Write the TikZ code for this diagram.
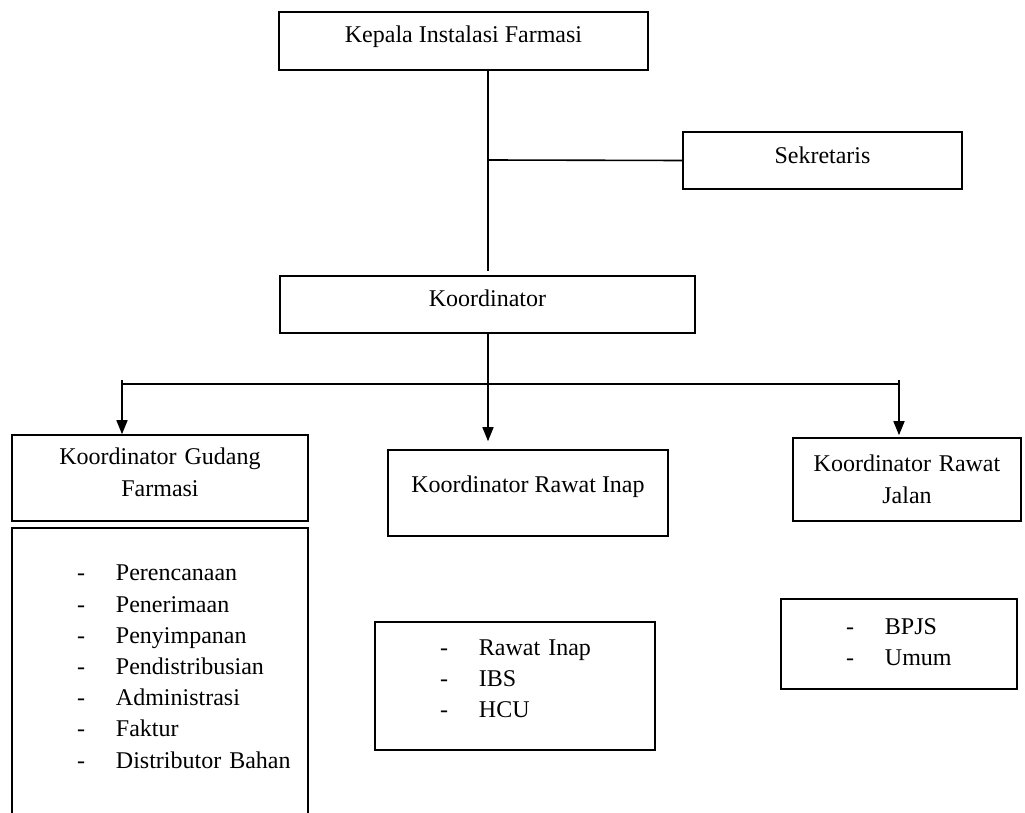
\documentclass[tikz,border=0pt]{standalone}
\usepackage{fontspec}
\setmainfont{Liberation Serif}
\usetikzlibrary{arrows.meta}
\newcommand{\itm}[1]{\hspace*{32.5pt}\makebox[19.5pt][l]{-}#1}

\begin{document}
\begin{tikzpicture}[x=0.5pt, y=-0.5pt, line width=0.8pt,
    every node/.style={font=\fontsize{12}{15.6}\selectfont},
    box/.style={draw, rectangle, inner sep=0pt, align=center, text height=8.5pt},
    listbox/.style={draw, rectangle, inner sep=0pt, align=left, text height=8.5pt},
    arr/.style={-{Triangle[length=7pt, width=5.5pt]}}]
    \clip (0,0) rectangle (1025,813);
    % Top level
    \node[box, minimum width=184.5pt, minimum height=29pt, text depth=6.5pt] (kepala) at (463.5,41) {Kepala Instalasi Farmasi};
    \node[box, minimum width=139.5pt, minimum height=28.5pt, text depth=5pt] (sekre) at (822.5,160.5) {Sekretaris};
    \node[box, minimum width=207.5pt, minimum height=28.5pt, text depth=6.3pt] (koor) at (487.5,304.5) {Koordinator};
    % Coordinators
    \node[box, text width=148pt, minimum height=43pt, text depth=21.5pt] (gudang) at (160,478) {Koordinator Gudang\\Farmasi};
    \node[box, minimum width=140pt, minimum height=43pt, text depth=8.5pt] (inap) at (528,493) {Koordinator Rawat Inap};
    \node[box, text width=114pt, minimum height=41.5pt, text depth=16pt] (jalan) at (907,479.5) {Koordinator Rawat\\Jalan};
    % Task lists
    \node[listbox, text width=148pt, minimum height=150pt, text depth=105.5pt] (lgudang) at (160,678)
        {\itm{Perencanaan}\\\itm{Penerimaan}\\\itm{Penyimpanan}\\\itm{Pendistribusian}\\\itm{Administrasi}\\\itm{Faktur}\\\itm{Distributor Bahan}};
    \node[listbox, text width=140pt, minimum height=64pt, text depth=39.5pt] (linap) at (515,686)
        {\itm{Rawat Inap}\\\itm{IBS}\\\itm{HCU}};
    \node[listbox, text width=118pt, minimum height=45pt, text depth=18.5pt] (ljalan) at (899,644)
        {\itm{BPJS}\\\itm{Umum}};
    % Connections
    \coordinate (spine) at (488,160);
    \coordinate (busl) at (122,384);
    \coordinate (busr) at (899,384);
    \draw (kepala.south -| spine) -- (koor.north -| spine) [shorten >=2pt];
    \draw (spine) -- (sekre.west);
    \draw[arr, shorten >=4pt] (koor.south -| spine) -- (inap.north -| spine);
    \draw (busl) -- (busr);
    \draw[arr] ([yshift=2pt]busl) -- (busl |- gudang.north);
    \draw[arr, shorten >=1pt] ([yshift=2pt]busr) -- (busr |- jalan.north);
\end{tikzpicture}
\end{document}
